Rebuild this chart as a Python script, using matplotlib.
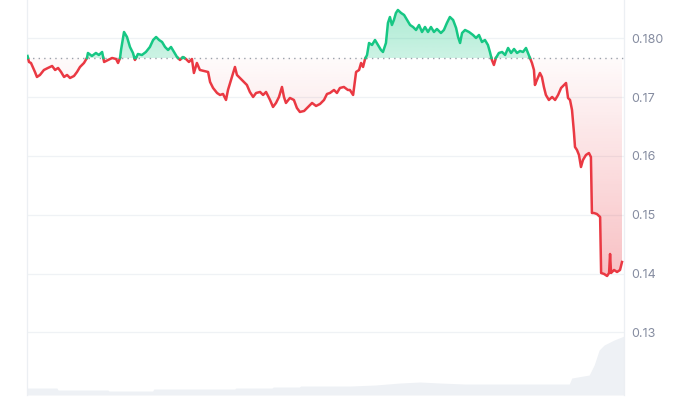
import numpy as np
import matplotlib
matplotlib.use('Agg')
import matplotlib.pyplot as plt
from matplotlib.path import Path
from matplotlib.patches import PathPatch

plt.rcParams['font.family'] = ['Inter', 'DejaVu Sans']

# price over the last 24 hours
hours = [0.02, 0.08, 0.16, 0.32, 0.40, 0.52, 0.68, 0.84, 1.01, 1.13, 1.25, 1.37, 1.49, 1.61, 1.73, 1.89,
         2.01, 2.13, 2.29, 2.41, 2.45, 2.61, 2.77, 2.89, 3.02, 3.10, 3.26, 3.42, 3.58, 3.66, 3.74, 3.78,
         3.90, 4.02, 4.14, 4.26, 4.34, 4.46, 4.62, 4.78, 4.94, 5.07, 5.19, 5.31, 5.43, 5.55, 5.67, 5.79,
         5.91, 6.03, 6.15, 6.27, 6.39, 6.51, 6.63, 6.71, 6.83, 6.95, 7.12, 7.28, 7.36, 7.48, 7.64, 7.76,
         7.88, 8.00, 8.08, 8.20, 8.36, 8.44, 8.56, 8.72, 8.84, 8.96, 9.09, 9.21, 9.37, 9.49, 9.61, 9.77,
         9.89, 10.01, 10.13, 10.25, 10.33, 10.41, 10.57, 10.73, 10.85, 10.97, 11.14, 11.30, 11.46, 11.62,
         11.78, 11.94, 12.06, 12.18, 12.34, 12.46, 12.58, 12.74, 12.90, 12.98, 13.11, 13.23, 13.35, 13.43,
         13.51, 13.59, 13.67, 13.75, 13.87, 13.99, 14.11, 14.23, 14.31, 14.43, 14.51, 14.59, 14.67, 14.75,
         14.83, 14.91, 15.04, 15.16, 15.28, 15.40, 15.52, 15.64, 15.76, 15.88, 16.00, 16.12, 16.24, 16.36,
         16.48, 16.64, 16.76, 16.88, 17.00, 17.13, 17.25, 17.33, 17.41, 17.49, 17.61, 17.77, 17.93, 18.05,
         18.17, 18.29, 18.41, 18.53, 18.61, 18.69, 18.77, 18.85, 18.97, 19.10, 19.22, 19.34, 19.46, 19.58,
         19.70, 19.82, 19.94, 20.06, 20.14, 20.22, 20.30, 20.38, 20.42, 20.50, 20.62, 20.70, 20.78, 20.86,
         20.98, 21.11, 21.23, 21.35, 21.47, 21.59, 21.67, 21.75, 21.83, 21.91, 21.99, 22.03, 22.11, 22.19,
         22.27, 22.35, 22.47, 22.59, 22.67, 22.71, 22.79, 22.91, 23.04, 23.08, 23.20, 23.32, 23.40, 23.44,
         23.48, 23.60, 23.72, 23.84, 23.92]
price = [0.17699, 0.17597, 0.17580, 0.17427, 0.17342, 0.17376, 0.17461, 0.17495, 0.17529, 0.17461,
         0.17495, 0.17427, 0.17342, 0.17376, 0.17325, 0.17359, 0.17427, 0.17512, 0.17580, 0.17665,
         0.17750, 0.17699, 0.17750, 0.17716, 0.17767, 0.17597, 0.17631, 0.17665, 0.17648, 0.17580,
         0.17665, 0.17801, 0.18107, 0.18022, 0.17852, 0.17750, 0.17631, 0.17733, 0.17716, 0.17767,
         0.17852, 0.17971, 0.18022, 0.17971, 0.17937, 0.17852, 0.17801, 0.17852, 0.17767, 0.17682,
         0.17631, 0.17682, 0.17648, 0.17597, 0.17648, 0.17410, 0.17580, 0.17461, 0.17444, 0.17427,
         0.17257, 0.17155, 0.17070, 0.17036, 0.17053, 0.16951, 0.17121, 0.17291, 0.17512, 0.17376,
         0.17325, 0.17257, 0.17206, 0.17087, 0.17002, 0.17070, 0.17087, 0.17036, 0.17087, 0.16951,
         0.16832, 0.16900, 0.17002, 0.17172, 0.17002, 0.16900, 0.16985, 0.16951, 0.16815, 0.16747,
         0.16764, 0.16832, 0.16900, 0.16849, 0.16883, 0.16951, 0.17053, 0.17070, 0.17121, 0.17070,
         0.17155, 0.17172, 0.17121, 0.17121, 0.17036, 0.17427, 0.17461, 0.17580, 0.17512, 0.17648,
         0.17716, 0.17920, 0.17886, 0.17971, 0.17886, 0.17801, 0.17767, 0.17920, 0.18260, 0.18362,
         0.18226, 0.18311, 0.18430, 0.18481, 0.18430, 0.18396, 0.18311, 0.18226, 0.18192, 0.18141,
         0.18226, 0.18107, 0.18192, 0.18107, 0.18192, 0.18107, 0.18158, 0.18090, 0.18141, 0.18260,
         0.18362, 0.18311, 0.18175, 0.18022, 0.17920, 0.18090, 0.18141, 0.18107, 0.18056, 0.18005,
         0.18056, 0.17937, 0.17971, 0.17886, 0.17767, 0.17631, 0.17546, 0.17665, 0.17750, 0.17767,
         0.17716, 0.17835, 0.17750, 0.17818, 0.17750, 0.17784, 0.17767, 0.17835, 0.17750, 0.17665,
         0.17580, 0.17461, 0.17206, 0.17291, 0.17410, 0.17342, 0.17172, 0.17036, 0.16951, 0.17002,
         0.16951, 0.17036, 0.17155, 0.17206, 0.17240, 0.16985, 0.16951, 0.16781, 0.16389, 0.16151,
         0.16100, 0.16015, 0.15811, 0.15930, 0.16015, 0.16049, 0.15981, 0.15029, 0.15029, 0.15012,
         0.14961, 0.14009, 0.13992, 0.13958, 0.14009, 0.14332, 0.14009, 0.14060, 0.14026, 0.14060,
         0.14196]
open_price = 0.17665

# traded volume (relative units)
vol_hours = [0, 1.2, 1.25, 3.25, 3.3, 5.05, 5.1, 8.35, 8.4, 9.85, 9.9, 10.95, 11.0, 13.0, 14.0,
             15.0, 15.8, 16.6, 17.6, 19.0, 21.8, 21.9, 22.6, 22.8, 23.0, 23.2, 23.6, 24.0]
volume = [7, 7, 5, 5, 4, 4, 6, 6, 7, 7, 8, 8, 9, 9, 10, 12, 13, 12, 11, 11, 11, 17, 20, 30, 45, 50, 55, 59]

ticks = [0.13, 0.14, 0.15, 0.16, 0.17, 0.18]
tick_labels = ['0.13', '0.14', '0.15', '0.16', '0.17', '0.180']

green = '#16c784'
red = '#ea3943'

fig = plt.figure(figsize=(7, 4), dpi=100)
ax = fig.add_axes([27/700, 5/400, 597/700, 395/400])
vax = ax.twinx()
ax.set_zorder(vax.get_zorder() + 1)
ax.patch.set_visible(False)

# volume at the bottom
vax.fill_between(vol_hours, 0, volume, color='#eef1f5', lw=0)
vax.set_ylim(0, max(volume) * 6.7)
vax.axis('off')

t = np.array(hours)
p = np.array(price)

# add the points where the line crosses the open price
tt, pp = [t[0]], [p[0]]
for i in range(1, len(t)):
    a, b = p[i-1] - open_price, p[i] - open_price
    if a * b < 0:
        f = a / (a - b)
        tt.append(t[i-1] + f * (t[i] - t[i-1]))
        pp.append(open_price)
    tt.append(t[i])
    pp.append(p[i])
tt = np.array(tt)
pp = np.array(pp)

ymin, ymax = 0.11934, 0.18651


def gradient_fill(where, color, a_top, a_bot, y0, y1):
    coll = ax.fill_between(tt, pp, open_price, where=where, interpolate=True,
                           color='none', lw=0)
    paths = coll.get_paths()
    if not paths:
        return
    path = Path.make_compound_path(*paths)
    patch = PathPatch(path, transform=ax.transData, facecolor='none', edgecolor='none')
    ax.add_patch(patch)
    rgb = matplotlib.colors.to_rgb(color)
    n = 256
    img = np.zeros((n, 1, 4))
    img[:, 0, :3] = rgb
    img[:, 0, 3] = np.linspace(a_top, a_bot, n)
    im = ax.imshow(img, extent=[0, 24, y0, y1], aspect='auto', origin='upper', zorder=1)
    im.set_clip_path(patch)


gradient_fill(pp >= open_price, green, 0.36, 0.22, open_price, 0.1850)
gradient_fill(pp <= open_price, red, 0.02, 0.32, 0.1390, open_price)

up = np.where(pp >= open_price, pp, np.nan)
dn = np.where(pp <= open_price, pp, np.nan)
ax.plot(tt, dn, color=red, lw=1.8, zorder=3, solid_joinstyle='round')
ax.plot(tt, up, color=green, lw=1.8, zorder=3, solid_joinstyle='round')

ax.axhline(open_price, color='#9aa0aa', lw=1, linestyle=(0, (1, 3)), zorder=2)

ax.set_xlim(0, 24)
ax.set_ylim(ymin, ymax)
ax.yaxis.tick_right()
ax.set_yticks(ticks)
ax.set_yticklabels(tick_labels)
ax.tick_params(axis='y', length=0, pad=5, labelsize=9, labelcolor='#858ca0')
ax.set_xticks([])
ax.grid(axis='y', color='#eff2f5', lw=0.9)
ax.set_axisbelow(True)

for side in ['top', 'bottom']:
    ax.spines[side].set_visible(False)
for side in ['left', 'right']:
    ax.spines[side].set_color('#eceff3')
    ax.spines[side].set_linewidth(0.9)

fig.savefig('out.png', dpi=100)
